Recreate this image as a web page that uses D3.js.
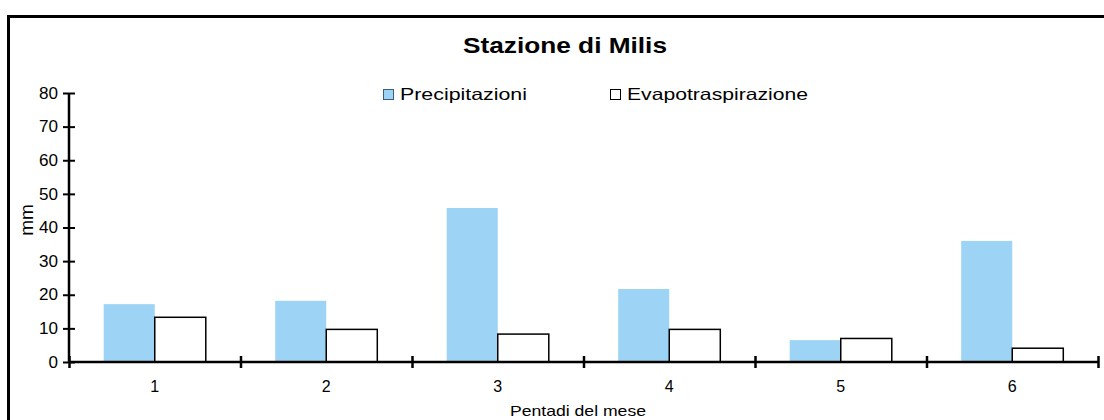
<!DOCTYPE html>
<html><head><meta charset="utf-8">
<script src="https://cdn.jsdelivr.net/npm/d3@7/dist/d3.min.js"></script>
<style>body{margin:0;background:#fff;}svg{display:block;font-family:"Liberation Sans",Arial,sans-serif;}</style>
</head><body>
<svg id="c" width="1104" height="420"></svg>
<script>
const categories = ["1","2","3","4","5","6"];
const seriesNames = ["Precipitazioni","Evapotraspirazione"];
const precipitazioni = [17.2, 18.2, 45.8, 21.7, 6.5, 36.0];
const evapotraspirazione = [13.3, 9.7, 8.3, 9.7, 7.0, 4.1];
const yTicks = [0,10,20,30,40,50,60,70,80];
const title = "Stazione di Milis";
const xTitle = "Pentadi del mese";
const yTitle = "mm";

const svg = d3.select("#c");
const L = 69, R = 1098, T = 93, B = 362;
const colors = {"Precipitazioni":"#9dd3f4","Evapotraspirazione":"#ffffff"};
const FF = "Liberation Sans, Arial, sans-serif";

// frame
svg.append("rect").attr("x",8.5).attr("y",16.5).attr("width",1110).attr("height",430)
  .attr("fill","none").attr("stroke","#000").attr("stroke-width",3);

svg.append("text").attr("x",463).attr("y",53)
  .attr("font-size",22).attr("font-weight","bold")
  .attr("textLength",204).attr("lengthAdjust","spacingAndGlyphs").text(title);

const x0 = d3.scaleBand().domain(categories).range([L,R]).paddingInner(0).paddingOuter(0);
const x1 = d3.scaleBand().domain(seriesNames).range([0,x0.bandwidth()]).paddingInner(0).paddingOuter(0.68);
const y = d3.scaleLinear().domain([0,80]).range([B,T]);

const data = categories.map((c,i)=>({c, vals:[{s:seriesNames[0],v:precipitazioni[i]},{s:seriesNames[1],v:evapotraspirazione[i]}]}));

const g = svg.append("g");
const groups = g.selectAll("g.cat").data(data).join("g").attr("transform",d=>`translate(${x0(d.c)},0)`);
groups.selectAll("rect").data(d=>d.vals).join("rect")
  .attr("x",d=>x1(d.s)).attr("width",x1.bandwidth())
  .attr("y",d=>y(d.v)).attr("height",d=>y(0)-y(d.v))
  .attr("fill",d=>colors[d.s])
  .attr("stroke",d=>d.s==="Evapotraspirazione"?"#000":"none")
  .attr("stroke-width",1.5);

// y axis
const ya = svg.append("g").attr("transform",`translate(${L},0)`)
  .call(d3.axisLeft(y).tickValues(yTicks).tickSize(6).tickPadding(5));
ya.select(".domain").attr("stroke-width",2.5).attr("d",`M0,${T}V${B}`);
ya.selectAll(".tick line").attr("x1",6).attr("stroke-width",2);
ya.selectAll(".tick text").attr("font-size",16).attr("font-family",FF).attr("fill","#000")
  .attr("textLength",function(){return this.textContent.length*9.5;}).attr("lengthAdjust","spacingAndGlyphs");

// x axis boundaries
const xb = d3.scaleLinear().domain([0,categories.length]).range([L,R]);
const xa = svg.append("g").attr("transform",`translate(0,${B})`)
  .call(d3.axisBottom(xb).ticks(categories.length).tickSize(6).tickFormat(""));
xa.select(".domain").attr("stroke-width",2.5).attr("d",`M${L},0H${R}`);
xa.selectAll(".tick line").attr("y1",-6).attr("stroke-width",2.5);

const xl = svg.append("g").attr("transform",`translate(0,${B})`)
  .call(d3.axisBottom(x0).tickSize(0).tickPadding(19));
xl.select(".domain").remove();
xl.selectAll(".tick text").attr("font-size",16).attr("font-family",FF).attr("fill","#000");

svg.append("text").attr("x",510).attr("y",416).attr("font-size",15)
  .attr("textLength",136).attr("lengthAdjust","spacingAndGlyphs").text(xTitle);
svg.append("text").attr("transform","translate(33,220) rotate(-90)").attr("text-anchor","middle")
  .attr("font-size",19).text(yTitle);

// legend
const legX = [383,610];
const legLen = [127,181];
const leg = svg.selectAll("g.leg").data(seriesNames).join("g").attr("transform",(d,i)=>`translate(${legX[i]},89)`);
leg.append("rect").attr("x",0.5).attr("y",0.5).attr("width",10).attr("height",10)
  .attr("fill",d=>colors[d]).attr("stroke",(d,i)=>i===0?"#3a5f7a":"#000").attr("stroke-width",1);
leg.append("text").attr("x",17).attr("y",11).attr("font-size",16.5)
  .attr("textLength",(d,i)=>legLen[i]).attr("lengthAdjust","spacingAndGlyphs").text(d=>d);
</script>
</body></html>
